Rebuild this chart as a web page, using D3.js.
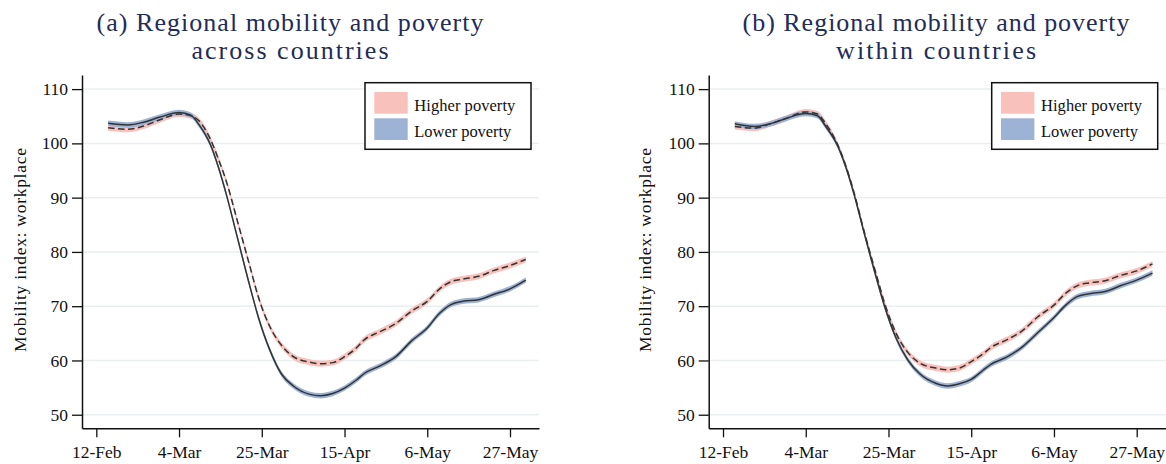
<!DOCTYPE html>
<html><head><meta charset="utf-8">
<script src="https://cdn.jsdelivr.net/npm/d3@7"></script>
<style>
html,body{margin:0;padding:0;background:#fff;}
svg{display:block;font-family:"Liberation Serif","Times New Roman",serif;}
</style></head>
<body><svg id="chart" width="1166" height="464"></svg>
<script>
// ---- data ----
const dates = ["2020-02-15","2020-02-20","2020-02-24","2020-02-28","2020-03-04","2020-03-07","2020-03-09",
  "2020-03-12","2020-03-14","2020-03-16","2020-03-19","2020-03-22","2020-03-24","2020-03-27","2020-03-30",
  "2020-04-02","2020-04-06","2020-04-09","2020-04-12","2020-04-15","2020-04-18","2020-04-20","2020-04-24",
  "2020-04-28","2020-05-02","2020-05-06","2020-05-09","2020-05-12","2020-05-15","2020-05-19","2020-05-23",
  "2020-05-27","2020-05-31"];

// (a) across countries
const acrossHigher = [102.9,102.6,103.2,104.3,105.4,105.1,104.2,100.7,97.1,93.0,85.2,77.3,72.0,66.3,62.8,
  60.7,59.7,59.4,59.6,60.7,62.3,63.8,65.3,66.8,69.1,70.9,73.1,74.5,75.0,75.5,76.6,77.5,78.6];
const acrossLower  = [103.7,103.4,103.9,104.8,105.7,105.2,103.5,99.7,95.6,90.6,82.1,73.6,68.3,62.0,57.5,
  55.3,53.8,53.5,53.9,54.9,56.4,57.6,59.0,60.7,63.6,66.0,68.6,70.3,70.9,71.2,72.2,73.2,74.8];

// (b) within countries
const withinHigher = [103.1,102.8,103.6,104.6,105.8,105.4,103.7,99.9,96.2,91.6,83.3,75.6,70.6,64.9,61.4,
  59.5,58.6,58.3,58.6,59.8,61.2,62.4,63.8,65.5,68.1,70.2,72.4,73.8,74.3,74.7,75.7,76.5,77.8];
const withinLower  = [103.6,103.1,103.6,104.6,105.5,105.1,103.2,99.7,96.0,91.3,83.0,75.0,70.0,64.0,60.0,
  57.5,55.8,55.3,55.7,56.5,58.2,59.3,60.6,62.5,65.2,67.9,70.2,71.8,72.3,72.7,73.8,74.8,76.1];

const ciHalfHigher = 0.55;   // half-width of the shaded confidence band
const ciHalfLower  = 0.5;

const yTicks = [50,60,70,80,90,100,110];
const xTickDates = ["2020-02-12","2020-03-04","2020-03-25","2020-04-15","2020-05-06","2020-05-27"];
const xTickLabels = ["12-Feb","4-Mar","25-Mar","15-Apr","6-May","27-May"];
const seriesNames = ["Higher poverty","Lower poverty"];
const panelTitles = [["(a) Regional mobility and poverty","across countries"],
                     ["(b) Regional mobility and poverty","within countries"]];
const yLabel = "Mobility index: workplace";

// ---- styles ----
const pink = "#f8c1bc", blue = "#9db3d5", lineCol = "#333333", gridCol = "#e9eff1", titleCol = "#232c58";
const titleWidths = [387, 197, 200];   // rendered widths in the reference
const legendWidths = [101, 97];

const svg = d3.select("#chart");
const parse = d3.utcParse("%Y-%m-%d");
const DAY = 864e5;
const feb12 = parse("2020-02-12").getTime();

function panel(cfg){
  const g = svg.append("g");
  const x0 = cfg.x0, W = 457;
  const x = d3.scaleUtc()
    .domain([new Date(feb12 - 3.63*DAY), new Date(feb12 + 112.36*DAY)])
    .range([x0, x0 + W]);
  const y = d3.scaleLinear().domain([47.5, 112.6]).range([428.3, 75]);

  // gridlines
  g.append("g").selectAll("line").data(yTicks).join("line")
    .attr("x1", x0).attr("x2", x0 + W)
    .attr("y1", d => y(d)).attr("y2", d => y(d))
    .attr("stroke", gridCol).attr("stroke-width", 1.5);

  const pts = (vals) => dates.map((d,i) => ({t: parse(d), v: vals[i]}));
  const curve = d3.curveMonotoneX;
  const band = (vals, h, col) => {
    g.append("path").datum(pts(vals))
      .attr("d", d3.area().curve(curve).x(p => x(p.t)).y0(p => y(p.v - h)).y1(p => y(p.v + h)))
      .attr("fill", col).attr("stroke", "none");
  };
  band(cfg.higher, ciHalfHigher, pink);
  band(cfg.lower, ciHalfLower, blue);
  const ln = d3.line().curve(curve).x(p => x(p.t)).y(p => y(p.v));
  g.append("path").datum(pts(cfg.lower)).attr("d", ln)
    .attr("fill","none").attr("stroke", lineCol).attr("stroke-width", 1.5);
  g.append("path").datum(pts(cfg.higher)).attr("d", ln)
    .attr("fill","none").attr("stroke", lineCol).attr("stroke-width", 1.5)
    .attr("stroke-dasharray","6.5,3.5");

  // axes
  const yAxis = d3.axisLeft(y).tickValues(yTicks).tickSize(10).tickSizeOuter(0).tickPadding(4);
  const ya = g.append("g").attr("transform", `translate(${x0},0)`).call(yAxis);
  const xAxis = d3.axisBottom(x).tickValues(xTickDates.map(parse))
    .tickFormat((d,i) => xTickLabels[i]).tickSize(9).tickSizeOuter(0).tickPadding(8);
  const xa = g.append("g").attr("transform", `translate(0,428.3)`).call(xAxis);
  [ya, xa].forEach(a => {
    a.select(".domain").attr("stroke","#111").attr("stroke-width",1.5);
    a.selectAll(".tick line").attr("stroke","#111").attr("stroke-width",1.3);
    a.selectAll("text").attr("fill","#111").style("font-size","17.5px")
      .style("font-family",'"Liberation Serif",serif');
  });

  // y label
  g.append("text").attr("transform", `translate(${cfg.ylabX},250) rotate(-90)`)
    .attr("text-anchor","middle").style("font-size","17.5px").attr("fill","#111")
    .attr("textLength", 204).attr("lengthAdjust","spacing").text(yLabel);

  // title
  const t = g.append("text").attr("text-anchor","middle").attr("fill", titleCol).style("font-size","26px");
  cfg.title.forEach((s,i) => t.append("tspan").attr("x", cfg.titleX).attr("y", 31 + i*28)
    .attr("textLength", i === 0 ? titleWidths[0] : titleWidths[cfg.idx + 1]).attr("lengthAdjust","spacing").text(s));

  // legend
  const lg = g.append("g").attr("transform", `translate(${cfg.legX},82.7)`);
  lg.append("rect").attr("x",0).attr("y",0).attr("width",166).attr("height",66.6)
    .attr("fill","#fff").attr("stroke","#111").attr("stroke-width",1.5);
  [pink, blue].forEach((c,i) => {
    lg.append("rect").attr("x",9.3).attr("y",9.3 + i*26.3).attr("width",33.4).attr("height",21.7).attr("fill",c);
    lg.append("text").attr("x",49.3).attr("y",28 + i*26).style("font-size","16.5px").attr("fill","#111")
      .attr("textLength", legendWidths[i]).attr("lengthAdjust","spacing").text(seriesNames[i]);
  });
}

panel({idx: 0, x0: 82, ylabX: 26, titleX: 290, legX: 365, title: panelTitles[0], higher: acrossHigher, lower: acrossLower});
panel({idx: 1, x0: 708.7, ylabX: 651, titleX: 936, legX: 991.7, title: panelTitles[1], higher: withinHigher, lower: withinLower});
</script></body></html>
